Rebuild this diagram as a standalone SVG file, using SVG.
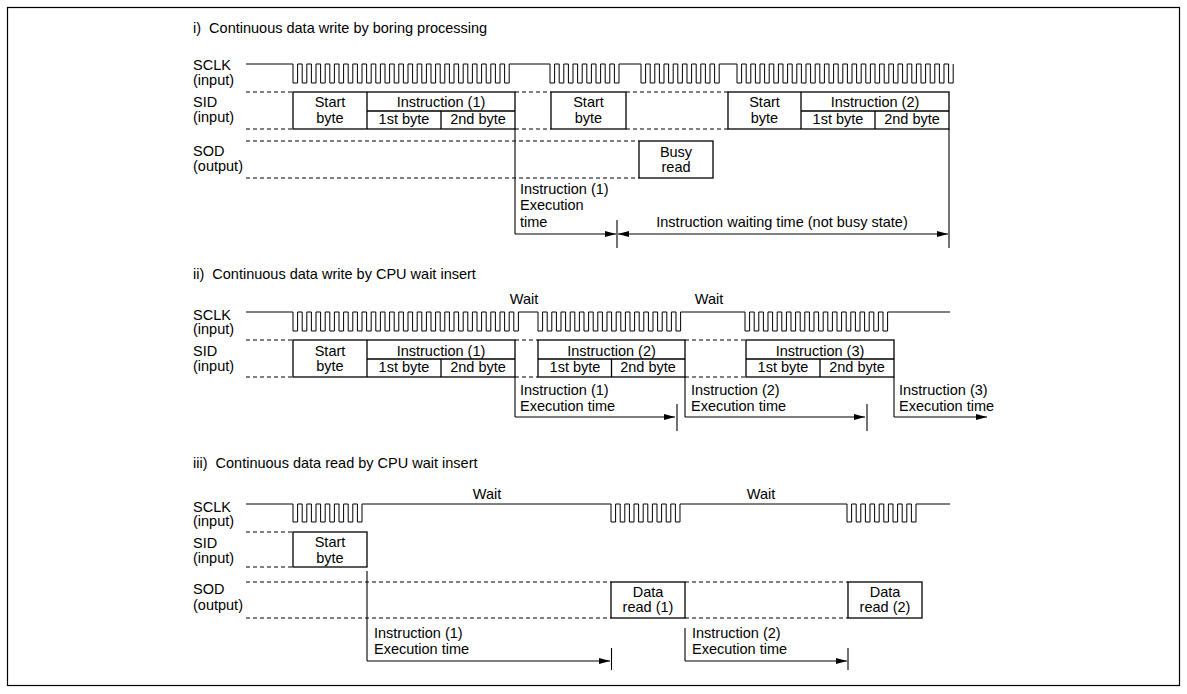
<svg xmlns="http://www.w3.org/2000/svg" width="1187" height="694" viewBox="0 0 1187 694">
<style>
text{font-family:"Liberation Sans",Arial,Helvetica,sans-serif;font-size:14.5px;fill:#000}
.c{text-anchor:middle}
.clk{fill:none;stroke:#000;stroke-width:1}
.box{fill:#fff;stroke:#000;stroke-width:1.3}
.bl{fill:none;stroke:#000;stroke-width:1.3}
.dash{fill:none;stroke:#000;stroke-width:1;stroke-dasharray:4 3}
.ln{fill:none;stroke:#000;stroke-width:1.1}
.arr{fill:none;stroke:#000;stroke-width:1.1;marker-end:url(#ah)}
.arr2{fill:none;stroke:#000;stroke-width:1.1;marker-start:url(#ah);marker-end:url(#ah)}
</style>
<defs>
<marker id="ah" markerWidth="11" markerHeight="6" refX="11" refY="3" orient="auto-start-reverse" markerUnits="userSpaceOnUse"><path d="M0,0L11,3L0,6z" fill="#000"/></marker>
</defs>
<rect x="0" y="0" width="1187" height="694" fill="#fff"/>
<rect id="frame" x="7.5" y="7.5" width="1172" height="678" fill="none" stroke="#000" stroke-width="1.2"/>

<!-- ===== Section i ===== -->
<g id="s1-title"><text x="193" y="33" xml:space="preserve">i)  Continuous data write by boring processing</text></g>
<g id="s1-labels">
<text x="193" y="70">SCLK</text><text x="193" y="84.5">(input)</text>
<text x="193" y="106.5">SID</text><text x="193" y="121.5">(input)</text>
<text x="193" y="156">SOD</text><text x="193" y="171">(output)</text>
</g>
<g id="s1-sclk">
<path class="clk" d="M246,64H293v19h4.6v-19h4.6v19h4.6v-19h4.6v19h4.6v-19h4.6v19h4.6v-19h4.6v19h4.6v-19h4.6v19h4.6v-19h4.6v19h4.6v-19h4.6v19h4.6v-19h4.6v19h4.6v-19h4.6v19h4.6v-19h4.6v19h4.6v-19h4.6v19h4.6v-19h4.6v19h4.6v-19h4.6v19h4.6v-19h4.6v19h4.6v-19h4.6v19h4.6v-19h4.6v19h4.6v-19h4.6v19h4.6v-19h4.6v19h4.6v-19h4.6v19h4.6v-19h4.6v19h4.6v-19h4.6v19h4.6v-19h4.6v19h4.6v-19h4.6v19h4.6v-19H550v19h4.6v-19h4.6v19h4.6v-19h4.6v19h4.6v-19h4.6v19h4.6v-19h4.6v19h4.6v-19h4.6v19h4.6v-19h4.6v19h4.6v-19h4.6v19h4.6v-19H641v19h4.6v-19h4.6v19h4.6v-19h4.6v19h4.6v-19h4.6v19h4.6v-19h4.6v19h4.6v-19h4.6v19h4.6v-19h4.6v19h4.6v-19h4.6v19h4.6v-19h4.6v19h4.6v-19H737v19h4.6v-19h4.6v19h4.6v-19h4.6v19h4.6v-19h4.6v19h4.6v-19h4.6v19h4.6v-19h4.6v19h4.6v-19h4.6v19h4.6v-19h4.6v19h4.6v-19h4.6v19h4.6v-19h4.6v19h4.6v-19h4.6v19h4.6v-19h4.6v19h4.6v-19h4.6v19h4.6v-19h4.6v19h4.6v-19h4.6v19h4.6v-19h4.6v19h4.6v-19h4.6v19h4.6v-19h4.6v19h4.6v-19h4.6v19h4.6v-19h4.6v19h4.6v-19h4.6v19h4.6v-19h4.6v19h4.6v-19h4.6v19h4.6v-19h4.6v19h4.6v-19"/>
</g>
<g id="s1-dashes">
<path class="dash" d="M246,92H293M515,92H551M626,92H728M246,129H293M515,129H551M626,129H728M246,141H639M246,178H639"/>
</g>
<g id="s1-sid1">
<rect class="box" x="293" y="92" width="222" height="37"/>
<path class="bl" d="M367,92V129M367,111H515M441,111V129"/>
<text class="c" x="330" y="107">Start</text><text class="c" x="330" y="122.5">byte</text>
<text class="c" x="441" y="107">Instruction (1)</text>
<text class="c" x="404" y="124">1st byte</text><text class="c" x="478" y="124">2nd byte</text>
</g>
<g id="s1-sid2">
<rect class="box" x="551" y="92" width="75" height="37"/>
<text class="c" x="588.5" y="107">Start</text><text class="c" x="588.5" y="122.5">byte</text>
</g>
<g id="s1-sid3">
<rect class="box" x="728" y="92" width="221" height="37"/>
<path class="bl" d="M801,92V129M801,111H949M875,111V129"/>
<text class="c" x="764.5" y="107">Start</text><text class="c" x="764.5" y="122.5">byte</text>
<text class="c" x="875" y="107">Instruction (2)</text>
<text class="c" x="838" y="124">1st byte</text><text class="c" x="912" y="124">2nd byte</text>
</g>
<g id="s1-busy">
<rect class="box" x="639" y="141" width="74" height="37"/>
<text class="c" x="676" y="157">Busy</text><text class="c" x="676" y="172">read</text>
</g>
<g id="s1-connectors">
<path class="ln" d="M515,129V234M617,220V248M949,129V248"/>
<path class="arr" d="M515,234H616"/>
<path class="arr2" d="M618,234H948"/>
</g>
<g id="s1-notes">
<text x="520" y="193.5">Instruction (1)</text>
<text x="520" y="210">Execution</text>
<text x="520" y="227">time</text>
<text class="c" x="782" y="227">Instruction waiting time (not busy state)</text>
</g>

<!-- ===== Section ii ===== -->
<g id="s2-title"><text x="193" y="279" xml:space="preserve">ii)  Continuous data write by CPU wait insert</text></g>
<g id="s2-labels">
<text x="193" y="319.5">SCLK</text><text x="193" y="333.5">(input)</text>
<text x="193" y="355.5">SID</text><text x="193" y="370.5">(input)</text>
<text class="c" x="524" y="304">Wait</text>
<text class="c" x="709" y="304">Wait</text>
</g>
<g id="s2-sclk">
<path class="clk" d="M246,312H293v19h4.6v-19h4.6v19h4.6v-19h4.6v19h4.6v-19h4.6v19h4.6v-19h4.6v19h4.6v-19h4.6v19h4.6v-19h4.6v19h4.6v-19h4.6v19h4.6v-19h4.6v19h4.6v-19h4.6v19h4.6v-19h4.6v19h4.6v-19h4.6v19h4.6v-19h4.6v19h4.6v-19h4.6v19h4.6v-19h4.6v19h4.6v-19h4.6v19h4.6v-19h4.6v19h4.6v-19h4.6v19h4.6v-19h4.6v19h4.6v-19h4.6v19h4.6v-19h4.6v19h4.6v-19h4.6v19h4.6v-19h4.6v19h4.6v-19h4.6v19h4.6v-19h4.6v19h4.6v-19H538v19h4.6v-19h4.6v19h4.6v-19h4.6v19h4.6v-19h4.6v19h4.6v-19h4.6v19h4.6v-19h4.6v19h4.6v-19h4.6v19h4.6v-19h4.6v19h4.6v-19h4.6v19h4.6v-19h4.6v19h4.6v-19h4.6v19h4.6v-19h4.6v19h4.6v-19h4.6v19h4.6v-19h4.6v19h4.6v-19h4.6v19h4.6v-19h4.6v19h4.6v-19H745v19h4.6v-19h4.6v19h4.6v-19h4.6v19h4.6v-19h4.6v19h4.6v-19h4.6v19h4.6v-19h4.6v19h4.6v-19h4.6v19h4.6v-19h4.6v19h4.6v-19h4.6v19h4.6v-19h4.6v19h4.6v-19h4.6v19h4.6v-19h4.6v19h4.6v-19h4.6v19h4.6v-19h4.6v19h4.6v-19h4.6v19h4.6v-19h4.6v19h4.6v-19H950"/>
</g>
<g id="s2-dashes">
<path class="dash" d="M246,340H293M515,340H538M685,340H746M246,377H293M515,377H538M685,377H746"/>
</g>
<g id="s2-sid1">
<rect class="box" x="293" y="340" width="222" height="37"/>
<path class="bl" d="M367,340V377M367,359H515M441,359V377"/>
<text class="c" x="330" y="356">Start</text><text class="c" x="330" y="371">byte</text>
<text class="c" x="441" y="356">Instruction (1)</text>
<text class="c" x="404" y="372">1st byte</text><text class="c" x="478" y="372">2nd byte</text>
</g>
<g id="s2-sid2">
<rect class="box" x="538" y="340" width="147" height="37"/>
<path class="bl" d="M538,359H685M611.5,359V377"/>
<text class="c" x="611.5" y="356">Instruction (2)</text>
<text class="c" x="575" y="372">1st byte</text><text class="c" x="648" y="372">2nd byte</text>
</g>
<g id="s2-sid3">
<rect class="box" x="746" y="340" width="148" height="37"/>
<path class="bl" d="M746,359H894M820,359V377"/>
<text class="c" x="820" y="356">Instruction (3)</text>
<text class="c" x="783" y="372">1st byte</text><text class="c" x="857" y="372">2nd byte</text>
</g>
<g id="s2-connectors">
<path class="ln" d="M515,377V417M677,404V431M685,377V417M867,404V431M894,377V417"/>
<path class="arr" d="M515,417H675"/>
<path class="arr" d="M685,417H865"/>
<path class="arr" d="M894,417H987"/>
</g>
<g id="s2-notes">
<text x="520" y="395">Instruction (1)</text><text x="520" y="411">Execution time</text>
<text x="691" y="395">Instruction (2)</text><text x="691" y="411">Execution time</text>
<text x="899" y="395">Instruction (3)</text><text x="899" y="411">Execution time</text>
</g>

<!-- ===== Section iii ===== -->
<g id="s3-title"><text x="193" y="468" xml:space="preserve">iii)  Continuous data read by CPU wait insert</text></g>
<g id="s3-labels">
<text x="193" y="511.5">SCLK</text><text x="193" y="526">(input)</text>
<text x="193" y="548">SID</text><text x="193" y="563">(input)</text>
<text x="193" y="594">SOD</text><text x="193" y="610">(output)</text>
<text class="c" x="487" y="499">Wait</text>
<text class="c" x="761" y="499">Wait</text>
</g>
<g id="s3-sclk">
<path class="clk" d="M246,504H293v18h4.6v-18h4.6v18h4.6v-18h4.6v18h4.6v-18h4.6v18h4.6v-18h4.6v18h4.6v-18h4.6v18h4.6v-18h4.6v18h4.6v-18h4.6v18h4.6v-18H611v18h4.6v-18h4.6v18h4.6v-18h4.6v18h4.6v-18h4.6v18h4.6v-18h4.6v18h4.6v-18h4.6v18h4.6v-18h4.6v18h4.6v-18h4.6v18h4.6v-18H847v18h4.6v-18h4.6v18h4.6v-18h4.6v18h4.6v-18h4.6v18h4.6v-18h4.6v18h4.6v-18h4.6v18h4.6v-18h4.6v18h4.6v-18h4.6v18h4.6v-18H950"/>
</g>
<g id="s3-dashes">
<path class="dash" d="M246,532H293M246,567H293M246,582H611M685,582H848M246,618H611M685,618H848"/>
</g>
<g id="s3-sid">
<rect class="box" x="293" y="532" width="74" height="35"/>
<text class="c" x="330" y="547">Start</text><text class="c" x="330" y="563">byte</text>
</g>
<g id="s3-data1">
<rect class="box" x="611" y="582" width="74" height="36"/>
<text class="c" x="648" y="596.5">Data</text><text class="c" x="648" y="612">read (1)</text>
</g>
<g id="s3-data2">
<rect class="box" x="848" y="582" width="74" height="36"/>
<text class="c" x="885" y="596.5">Data</text><text class="c" x="885" y="612">read (2)</text>
</g>
<g id="s3-connectors">
<path class="ln" d="M367,571V661M611.5,648V670M685,628V661M848,648V670"/>
<path class="arr" d="M367,661H610"/>
<path class="arr" d="M685,661H847"/>
</g>
<g id="s3-notes">
<text x="374" y="637.5">Instruction (1)</text><text x="374" y="654">Execution time</text>
<text x="692" y="637.5">Instruction (2)</text><text x="692" y="654">Execution time</text>
</g>
</svg>
